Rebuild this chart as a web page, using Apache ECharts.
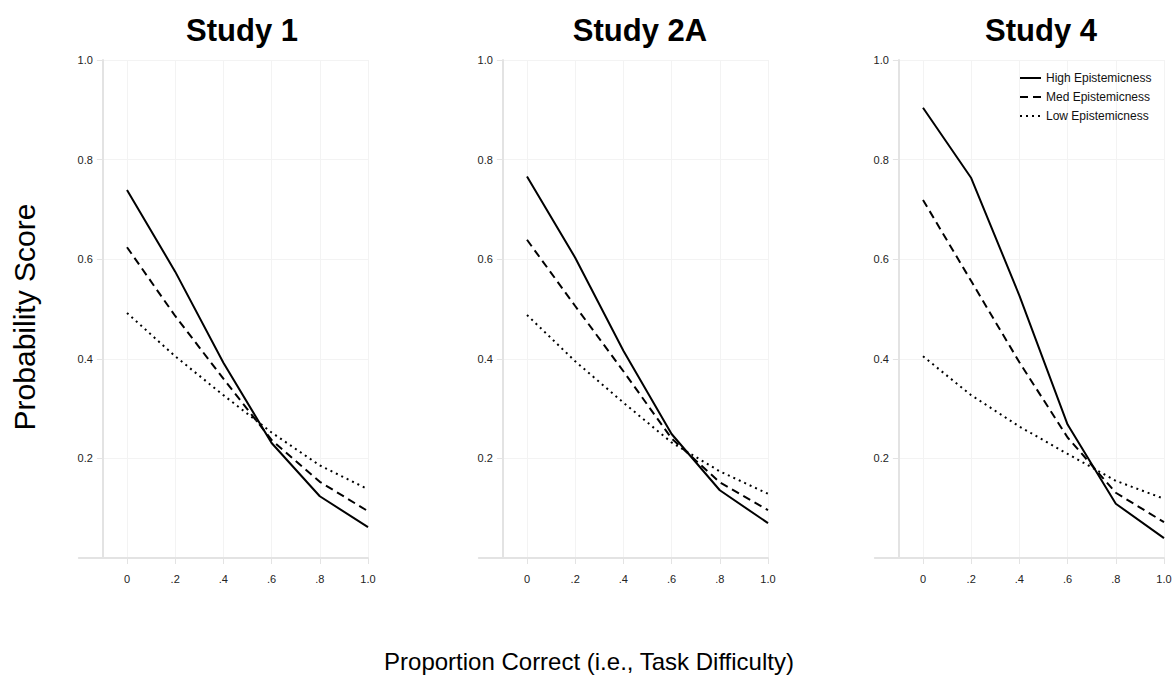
<!DOCTYPE html>
<html><head><meta charset="utf-8">
<script src="https://cdn.jsdelivr.net/npm/echarts@6/dist/echarts.min.js"></script>
<style>html,body{margin:0;padding:0;background:#fff}#c{width:1176px;height:677px}</style>
</head><body><div id="c"></div>
<script>
// ---- data ----
const xValues = [0, 0.2, 0.4, 0.6, 0.8, 1.0];
const xTickLabels = ['0', '.2', '.4', '.6', '.8', '1.0'];
const yTickValues = [0.2, 0.4, 0.6, 0.8, 1.0];
const studyTitles = ['Study 1', 'Study 2A', 'Study 4'];
const seriesNames = ['High Epistemicness', 'Med Epistemicness', 'Low Epistemicness'];

const study1High = [0.739, 0.575, 0.392, 0.231, 0.124, 0.062];
const study1Med  = [0.624, 0.486, 0.360, 0.237, 0.153, 0.094];
const study1Low  = [0.492, 0.405, 0.327, 0.252, 0.186, 0.138];

const study2High = [0.766, 0.603, 0.416, 0.249, 0.136, 0.070];
const study2Med  = [0.639, 0.506, 0.375, 0.240, 0.152, 0.096];
const study2Low  = [0.488, 0.395, 0.312, 0.232, 0.174, 0.129];

const study4High = [0.904, 0.763, 0.527, 0.268, 0.109, 0.040];
const study4Med  = [0.719, 0.556, 0.393, 0.242, 0.131, 0.072];
const study4Low  = [0.405, 0.327, 0.264, 0.209, 0.155, 0.119];

const panels = [
  [study1High, study1Med, study1Low],
  [study2High, study2Med, study2Low],
  [study4High, study4Med, study4Low]
];

// ---- layout ----
const zeroX = [127, 527, 923];
const unitW = 241;
const gridTop = 60, gridH = 498;
const lineTypes = ['solid', [8, 5], [2, 4]];
const FONT = 'Liberation Sans, Arial, Helvetica, sans-serif';
const axisColor = '#e3e3e3';
const gridColor = '#f3f3f3';
const labelColor = '#222';

const grid = [], xAxis = [], yAxis = [], series = [], graphic = [];

panels.forEach((p, i) => {
  // main plotting grid: x from -0.1 (y-axis position) to 1.0
  grid.push({left: zeroX[i] - 0.1 * unitW, width: 1.1 * unitW, top: gridTop, height: gridH});
  xAxis.push({
    gridIndex: i, type: 'value', min: -0.1, max: 1.0,
    axisLine: {show: false, onZero: false},
    axisTick: {show: true, length: 6, customValues: xValues, lineStyle: {color: axisColor, width: 1}},
    axisLabel: {customValues: xValues, margin: 15, fontSize: 11, color: labelColor, fontFamily: FONT,
      formatter: v => { const k = xValues.findIndex(t => Math.abs(t - v) < 1e-6); return k >= 0 ? xTickLabels[k] : ''; }},
    splitLine: {show: true, lineStyle: {color: gridColor, width: 1}}
  });
  yAxis.push({
    gridIndex: i, type: 'value', min: 0, max: 1, interval: 0.2,
    axisLine: {show: true, onZero: false, lineStyle: {color: axisColor, width: 2}},
    axisTick: {show: true, length: 6, customValues: yTickValues, lineStyle: {color: axisColor, width: 1}},
    axisLabel: {customValues: yTickValues, margin: 10, fontSize: 11, color: labelColor, fontFamily: FONT,
      formatter: v => v.toFixed(1)},
    splitLine: {show: true, lineStyle: {color: gridColor, width: 1}}
  });
  p.forEach((arr, s) => {
    series.push({
      name: seriesNames[s], type: 'line', xAxisIndex: i, yAxisIndex: i,
      data: xValues.map((x, k) => [x, arr[k]]),
      symbol: 'none', silent: true, animation: false,
      lineStyle: {color: '#000', width: 2, type: lineTypes[s]},
      itemStyle: {color: '#000'}
    });
  });
});

// extra grids carrying the longer x-axis line (-0.2 .. 1.0)
panels.forEach((p, i) => {
  const g = grid.length;
  grid.push({left: zeroX[i] - 0.2 * unitW, width: 1.2 * unitW, top: gridTop, height: gridH});
  xAxis.push({gridIndex: g, type: 'value', min: -0.2, max: 1.0,
    axisLine: {show: true, onZero: false, lineStyle: {color: axisColor, width: 2}},
    axisTick: {show: false}, axisLabel: {show: false}, splitLine: {show: false}});
  yAxis.push({gridIndex: g, type: 'value', min: 0, max: 1, show: false});
});

// titles
const titleCenters = [242, 640, 1041];
studyTitles.forEach((t, i) => {
  graphic.push({type: 'text', x: titleCenters[i], y: 30,
    style: {text: t, fill: '#000', font: 'bold 31px ' + FONT, textAlign: 'center', textVerticalAlign: 'middle'}});
});
graphic.push({type: 'text', x: 24, y: 317, rotation: Math.PI / 2,
  style: {text: 'Probability Score', fill: '#000', font: '30px ' + FONT, textAlign: 'center', textVerticalAlign: 'middle'}});
graphic.push({type: 'text', x: 589, y: 661,
  style: {text: 'Proportion Correct (i.e., Task Difficulty)', fill: '#000', font: '24px ' + FONT, textAlign: 'center', textVerticalAlign: 'middle'}});

const chart = echarts.init(document.getElementById('c'), null, {renderer: 'svg'});
chart.setOption({
  backgroundColor: '#fff',
  animation: false,
  grid, xAxis, yAxis, series, graphic,
  legend: {
    data: seriesNames, orient: 'vertical', left: 1019, top: 72,
    itemWidth: 21, itemHeight: 12, itemGap: 7, padding: 0, selectedMode: false,
    itemStyle: {color: 'rgba(0,0,0,0)', borderWidth: 0, opacity: 0},
    textStyle: {fontSize: 12, color: '#111', fontFamily: FONT}
  }
});
</script>
</body></html>
